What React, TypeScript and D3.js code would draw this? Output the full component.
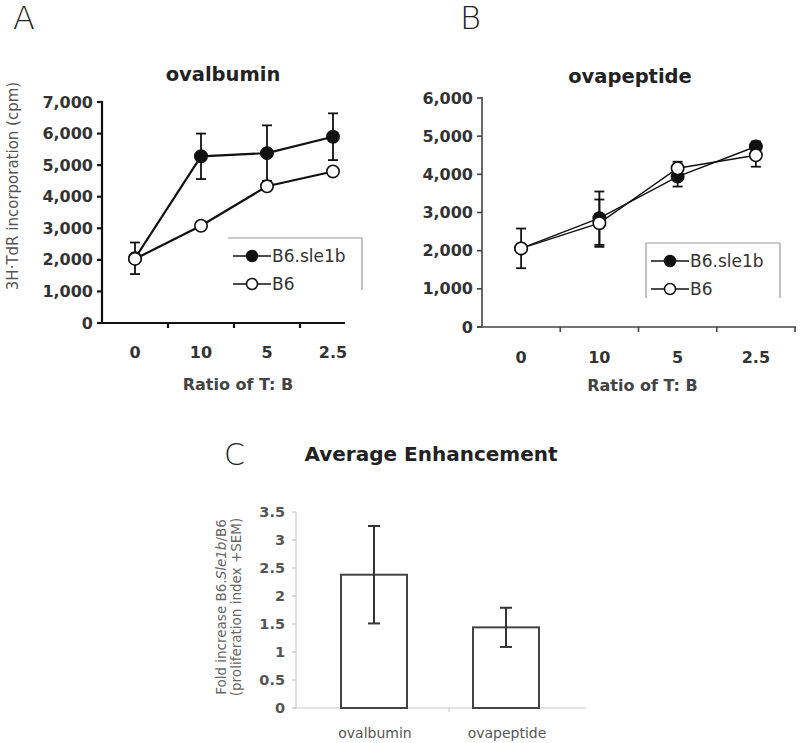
import * as d3 from "d3";

// ---- data ----
const ratios = ["0", "10", "5", "2.5"];

// panel A - ovalbumin
const ovaSle1b = [2050, 5280, 5380, 5900];
const ovaSle1bErr = [500, 720, 880, 740];
const ovaB6 = [2030, 3080, 4330, 4800];
const ovaB6Err = [0, 110, 0, 0];

// panel B - ovapeptide
const pepSle1b = [2060, 2850, 3940, 4730];
const pepSle1bErr = [520, 700, 260, 130];
const pepB6 = [2060, 2720, 4160, 4500];
const pepB6Err = [0, 620, 170, 300];

const ovaTicks = [0, 1000, 2000, 3000, 4000, 5000, 6000, 7000];
const pepTicks = [0, 1000, 2000, 3000, 4000, 5000, 6000];

// panel C - average enhancement
const antigens = ["ovalbumin", "ovapeptide"];
const foldIncrease = [2.38, 1.44];
const foldErr = [0.87, 0.35];
const foldTicks = [0, 0.5, 1, 1.5, 2, 2.5, 3, 3.5];

const FONT = "'DejaVu Sans', Verdana, sans-serif";
const fmt = d3.format(",");

type Series = { vals: number[]; err: number[]; filled: boolean };

function LinePanel(props: {
  title: string;
  yMax: number;
  ticks: number[];
  x0: number; x1: number; axisEnd: number;
  y0: number; y1: number;
  series: Series[];
  axisColor: string;
  axisWidth: number;
  lineWidth: number;
  legend: { x: number; y: number; w: number; h: number; left: boolean };
  titleX: number;
  titleY: number;
  xLabelY: number;
  xTitleY: number;
  endTick: boolean;
}) {
  const { x0, x1, y0, y1 } = props;
  const x = d3.scaleBand<string>().domain(ratios).range([x0, x1]);
  const y = d3.scaleLinear().domain([0, props.yMax]).range([y0, y1]);
  const cx = (c: string) => (x(c) ?? 0) + x.bandwidth() / 2;
  const line = d3
    .line<number>()
    .x((_, i) => cx(ratios[i]))
    .y((d) => y(d));
  const edges = ratios.slice(1).map((c) => x(c) ?? 0);
  if (props.endTick) edges.push(x1);
  const lg = props.legend;
  const gray = "#999";

  return (
    <g fontFamily={FONT}>
      <text x={props.titleX} y={props.titleY} textAnchor="middle" fontSize={19.5} fontWeight="bold" fill="#222">
        {props.title}
      </text>
      {/* legend box */}
      <g stroke={gray} strokeWidth={1.2} fill="none">
        <line x1={lg.x} x2={lg.x + lg.w} y1={lg.y} y2={lg.y} />
        <line x1={lg.x + lg.w} x2={lg.x + lg.w} y1={lg.y} y2={lg.y + lg.h} />
        {lg.left && <line x1={lg.x} x2={lg.x} y1={lg.y} y2={lg.y + lg.h} />}
      </g>
      {/* axes */}
      <g stroke={props.axisColor} strokeWidth={props.axisWidth}>
        <line x1={x0} x2={x0} y1={y0} y2={y1 - 1} />
        <line x1={x0 - 5} x2={props.axisEnd} y1={y0} y2={y0} />
        {props.ticks.map((t) => (
          <line key={t} x1={x0 - 5} x2={x0} y1={y(t)} y2={y(t)} />
        ))}
        {edges.map((e, i) => (
          <line key={i} x1={e} x2={e} y1={y0} y2={y0 + 5} />
        ))}
      </g>
      {props.ticks.map((t) => (
        <text key={t} x={x0 - 9} y={y(t) + 5.5} textAnchor="end" fontSize={16} fontWeight="bold" fill="#333">
          {fmt(t)}
        </text>
      ))}
      {ratios.map((c) => (
        <text key={c} x={cx(c)} y={props.xLabelY} textAnchor="middle" fontSize={16} fontWeight="bold" fill="#333">
          {c}
        </text>
      ))}
      <text x={(x0 + x1) / 2 + 4} y={props.xTitleY} textAnchor="middle" fontSize={16} fontWeight="bold" fill="#444">
        Ratio of T: B
      </text>
      {/* series */}
      {props.series.map((s, si) => (
        <g key={si}>
          <path d={line(s.vals) ?? ""} fill="none" stroke="#111" strokeWidth={props.lineWidth} />
          {s.vals.map((v, i) =>
            s.err[i] > 0 ? (
              <g key={i} stroke="#111" strokeWidth={1.8}>
                <line x1={cx(ratios[i])} x2={cx(ratios[i])} y1={y(v - s.err[i])} y2={y(v + s.err[i])} />
                <line x1={cx(ratios[i]) - 5} x2={cx(ratios[i]) + 5} y1={y(v - s.err[i])} y2={y(v - s.err[i])} />
                <line x1={cx(ratios[i]) - 5} x2={cx(ratios[i]) + 5} y1={y(v + s.err[i])} y2={y(v + s.err[i])} />
              </g>
            ) : null
          )}
        </g>
      ))}
      {props.series.map((s, si) =>
        s.vals.map((v, i) => (
          <circle
            key={`${si}-${i}`}
            cx={cx(ratios[i])}
            cy={y(v)}
            r={6.2}
            fill={s.filled ? "#111" : "#fff"}
            stroke="#111"
            strokeWidth={1.6}
          />
        ))
      )}
      {/* legend entries */}
      {["B6.sle1b", "B6"].map((name, i) => {
        const ry = lg.y + 18 + i * 28;
        const mx = lg.x + 24;
        return (
          <g key={name}>
            <line x1={lg.x + 5} x2={lg.x + 43} y1={ry} y2={ry} stroke="#111" strokeWidth={1.6} />
            <circle cx={mx} cy={ry} r={5.5} fill={i === 0 ? "#111" : "#fff"} stroke="#111" strokeWidth={1.5} />
            <text x={lg.x + 44} y={ry + 6} fontSize={17} fill="#333">
              {name}
            </text>
          </g>
        );
      })}
    </g>
  );
}

function BarPanel() {
  const y0 = 708;
  const y1 = 512;
  const axX = 296;
  const axEnd = 586;
  const x = d3.scaleBand<string>().domain(antigens).range([308, 572]).paddingInner(0.5).paddingOuter(0.25);
  const y = d3.scaleLinear().domain([0, 3.5]).range([y0, y1]);
  const light = "#c8c8c8";
  return (
    <g fontFamily={FONT}>
      <text x={224} y={465} fontSize={30} fill="#222" fontWeight="300">C</text>
      <text x={431} y={461} textAnchor="middle" fontSize={20} fontWeight="bold" fill="#222">
        Average Enhancement
      </text>
      <g stroke={light} strokeWidth={1.2}>
        <line x1={axX} x2={axX} y1={y0} y2={y1} />
        <line x1={axX - 4} x2={axEnd} y1={y0} y2={y0} />
        {foldTicks.map((t) => (
          <line key={t} x1={axX - 4} x2={axX} y1={y(t)} y2={y(t)} />
        ))}
        <line x1={(axX + axEnd) / 2 + 8} x2={(axX + axEnd) / 2 + 8} y1={y0} y2={y0 + 4} />
      </g>
      {foldTicks.map((t) => (
        <text key={t} x={285} y={y(t) + 5} textAnchor="end" fontSize={14.5} fontWeight="bold" fill="#555">
          {t}
        </text>
      ))}
      {antigens.map((a, i) => {
        const bx = x(a) ?? 0;
        const cx = bx + x.bandwidth() / 2;
        return (
          <g key={a}>
            <rect x={bx} y={y(foldIncrease[i])} width={x.bandwidth()} height={y0 - y(foldIncrease[i])} fill="#fff" stroke="#444" strokeWidth={2} />
            <g stroke="#333" strokeWidth={2}>
              <line x1={cx} x2={cx} y1={y(foldIncrease[i] - foldErr[i])} y2={y(foldIncrease[i] + foldErr[i])} />
              <line x1={cx - 6} x2={cx + 6} y1={y(foldIncrease[i] - foldErr[i])} y2={y(foldIncrease[i] - foldErr[i])} />
              <line x1={cx - 6} x2={cx + 6} y1={y(foldIncrease[i] + foldErr[i])} y2={y(foldIncrease[i] + foldErr[i])} />
            </g>
            <text x={cx + 1} y={738} textAnchor="middle" fontSize={14} fill="#555">
              {a}
            </text>
          </g>
        );
      })}
      <g transform="translate(226,607) rotate(-90)" fontSize={13.5} fill="#666" textAnchor="middle">
        <text x={0} y={0}>
          Fold increase B6.<tspan fontStyle="italic">Sle1b</tspan>/B6
        </text>
        <text x={0} y={15}>(proliferation index +SEM)</text>
      </g>
    </g>
  );
}

export default function App() {
  return (
    <svg width={800} height={743} style={{ position: "absolute", left: 0, top: 0, background: "#fff" }}>
      <text x={13} y={29} fontFamily={FONT} fontSize={32} fontWeight="300" fill="#222">A</text>
      <text x={460} y={29} fontFamily={FONT} fontSize={32} fontWeight="300" fill="#222">B</text>
      <text
        transform="translate(18,186) rotate(-90)"
        textAnchor="middle"
        fontFamily={FONT}
        fontSize={15}
        fill="#555"
      >
        3H·TdR incorporation (cpm)
      </text>
      <LinePanel
        title="ovalbumin"
        yMax={7000}
        ticks={ovaTicks}
        x0={102}
        x1={366}
        axisEnd={345}
        y0={323}
        y1={102}
        series={[
          { vals: ovaSle1b, err: ovaSle1bErr, filled: true },
          { vals: ovaB6, err: ovaB6Err, filled: false },
        ]}
        axisColor="#111"
        axisWidth={2.2}
        lineWidth={2.2}
        legend={{ x: 228, y: 238, w: 134, h: 52, left: false }}
        titleX={223}
        titleY={81}
        xLabelY={358}
        xTitleY={390}
        endTick={false}
      />
      <LinePanel
        title="ovapeptide"
        yMax={6000}
        ticks={pepTicks}
        x0={482}
        x1={795}
        axisEnd={796}
        y0={327}
        y1={98}
        series={[
          { vals: pepSle1b, err: pepSle1bErr, filled: true },
          { vals: pepB6, err: pepB6Err, filled: false },
        ]}
        axisColor="#444"
        axisWidth={1.6}
        lineWidth={1.4}
        legend={{ x: 646, y: 243, w: 134, h: 55, left: true }}
        titleX={630}
        titleY={83}
        xLabelY={363}
        xTitleY={391}
        endTick={true}
      />
      <BarPanel />
    </svg>
  );
}
